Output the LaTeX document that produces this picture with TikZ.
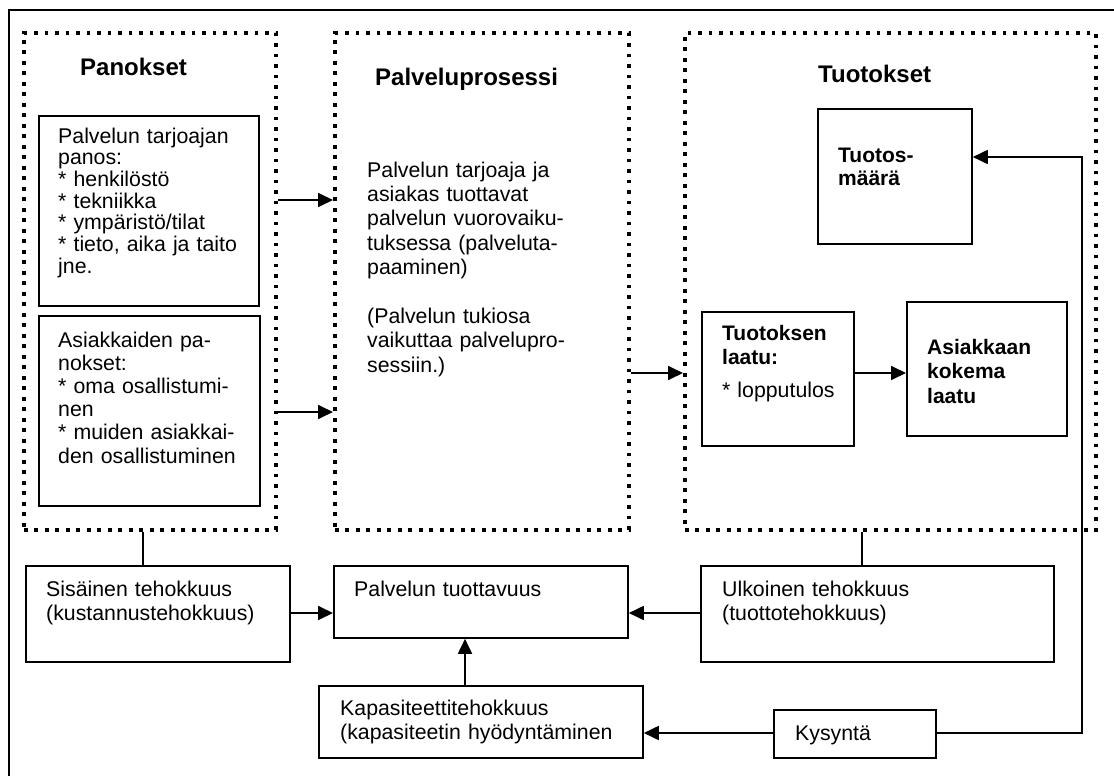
\documentclass[tikz,border=0pt]{standalone}
\usepackage{fontspec}
\setmainfont{Liberation Sans}
\usetikzlibrary{arrows.meta,calc}

\begin{document}
\begin{tikzpicture}[x=1pt,y=-1pt,
  frame/.style={line width=1.8pt},
  zone/.style={draw, line width=3.8pt, dash pattern=on 3.8pt off 6.7pt,
    inner sep=0pt, anchor=north west},
  box/.style={draw, line width=1.8pt, inner sep=0pt, anchor=north west},
  txt/.style={inner sep=0pt, anchor=base west, align=left, text width=320pt},
  title/.style={txt, font=\fontsize{24}{28}\selectfont\bfseries},
  body/.style={txt, font=\fontsize{21.3}{#1}\selectfont},
  body/.default=24.4,
  bold/.style={txt, font=\fontsize{21}{#1}\selectfont\bfseries},
  bold/.default=24.4,
  tip/.style={-{Triangle[length=15pt,width=14pt]}},
  arr/.style={line width=1.8pt, tip},
  link/.style={line width=1.2pt},
  wire/.style={line width=1.8pt}
]
\useasboundingbox (0,0) rectangle (1114,776);

% outer frame
\draw[frame] (9,790) -- (9,10) -- (1130,10);

% three phases
\node[zone, minimum width=252pt, minimum height=497pt] (inp)  at (22,31)  {};
\node[zone, minimum width=294pt, minimum height=497pt] (proc) at (333,31) {};
\node[zone, minimum width=411pt, minimum height=497pt] (out)  at (683,31) {};

\node[title] (tinp)  at (80,75)  {Panokset};
\node[title] (tproc) at (375,85) {Palveluprosessi};
\node[title] (tout)  at (818,82) {Tuotokset};

% inputs
\node[box, minimum width=220pt, minimum height=190pt] (prov) at (38,115) {};
\node[body=21.7] (provt) at (58,143) {Palvelun tarjoajan\\panos:\\{}* henkilöstö\\{}* tekniikka\\{}* ympäristö/tilat\\{}* tieto, aika ja taito\\jne.};

\node[box, minimum width=221pt, minimum height=190pt] (cust) at (38,315) {};
\node[body=23.2] (custt) at (58,347) {Asiakkaiden pa-\\nokset:\\{}* oma osallistumi-\\nen\\{}* muiden asiakkai-\\den osallistuminen};

% process
\node[body=24.4] (proct) at (367,177) {Palvelun tarjoaja ja\\asiakas tuottavat\\palvelun vuorovaiku-\\tuksessa (palveluta-\\paaminen)\\[24.4pt](Palvelun tukiosa\\vaikuttaa palvelupro-\\sessiin.)};

% outputs
\node[box, minimum width=154pt, minimum height=135pt] (qty) at (817,108) {};
\node[bold=23] (qtyt) at (838,162) {Tuotos-\\määrä};

\node[box, minimum width=152pt, minimum height=134pt] (qual) at (701,311) {};
\node[bold=24] (qualt) at (722,340) {Tuotoksen\\laatu:\\[9pt]\mdseries\fontsize{21.3}{24}\selectfont{}* lopputulos};

\node[box, minimum width=160pt, minimum height=134pt] (exp) at (906,301) {};
\node[bold=24.5] (expt) at (927,354) {Asiakkaan\\kokema\\laatu};

% efficiency measures
\node[box, minimum width=264pt, minimum height=96pt] (sis) at (25,565) {};
\node[body=24] (sist) at (46,596) {Sisäinen tehokkuus\\(kustannustehokkuus)};

\node[box, minimum width=294pt, minimum height=72pt] (tuot) at (333,565) {};
\node[body] (tuott) at (354,596) {Palvelun tuottavuus};

\node[box, minimum width=353pt, minimum height=96pt] (ulk) at (700,565) {};
\node[body=24] (ulkt) at (722,596) {Ulkoinen tehokkuus\\(tuottotehokkuus)};

\node[box, minimum width=324pt, minimum height=72pt] (kap) at (318,685) {};
\node[body=24] (kapt) at (340,715) {Kapasiteettitehokkuus\\(kapasiteetin hyödyntäminen};

\node[box, minimum width=162pt, minimum height=48pt] (kys) at (773,709) {};
\node[body] (kyst) at (795,740) {Kysyntä};

\coordinate (turn) at (1082,733);

% flows between phases
\draw[arr] (inp.east |- 0,200) -- (proc.west |- 0,200);
\draw[arr] (inp.east |- 0,412) -- (proc.west |- 0,412);
\draw[arr] (proc.east |- 0,373) -- (out.west |- 0,373);
\draw[arr] (qual.east |- 0,373) -- (exp.west |- 0,373);

% links to the measures
\draw[link] (inp.south -| 143,0) -- (sis.north -| 143,0);
\draw[link] (out.south -| 862,0) -- (ulk.north -| 862,0);
\draw[arr] (sis.east |- 0,613) -- (tuot.west |- 0,613);
\draw[arr] (ulk.west |- 0,613) -- (tuot.east |- 0,613);
\draw[arr] (kap.north -| 465,0) -- (tuot.south -| 465,0);
\draw[arr] (kys.west |- turn) -- (kap.east |- turn);
\draw[wire, tip] (kys.east |- turn) -- (turn) -- (turn |- 0,157) -- (qty.east |- 0,157);
\end{tikzpicture}
\end{document}
